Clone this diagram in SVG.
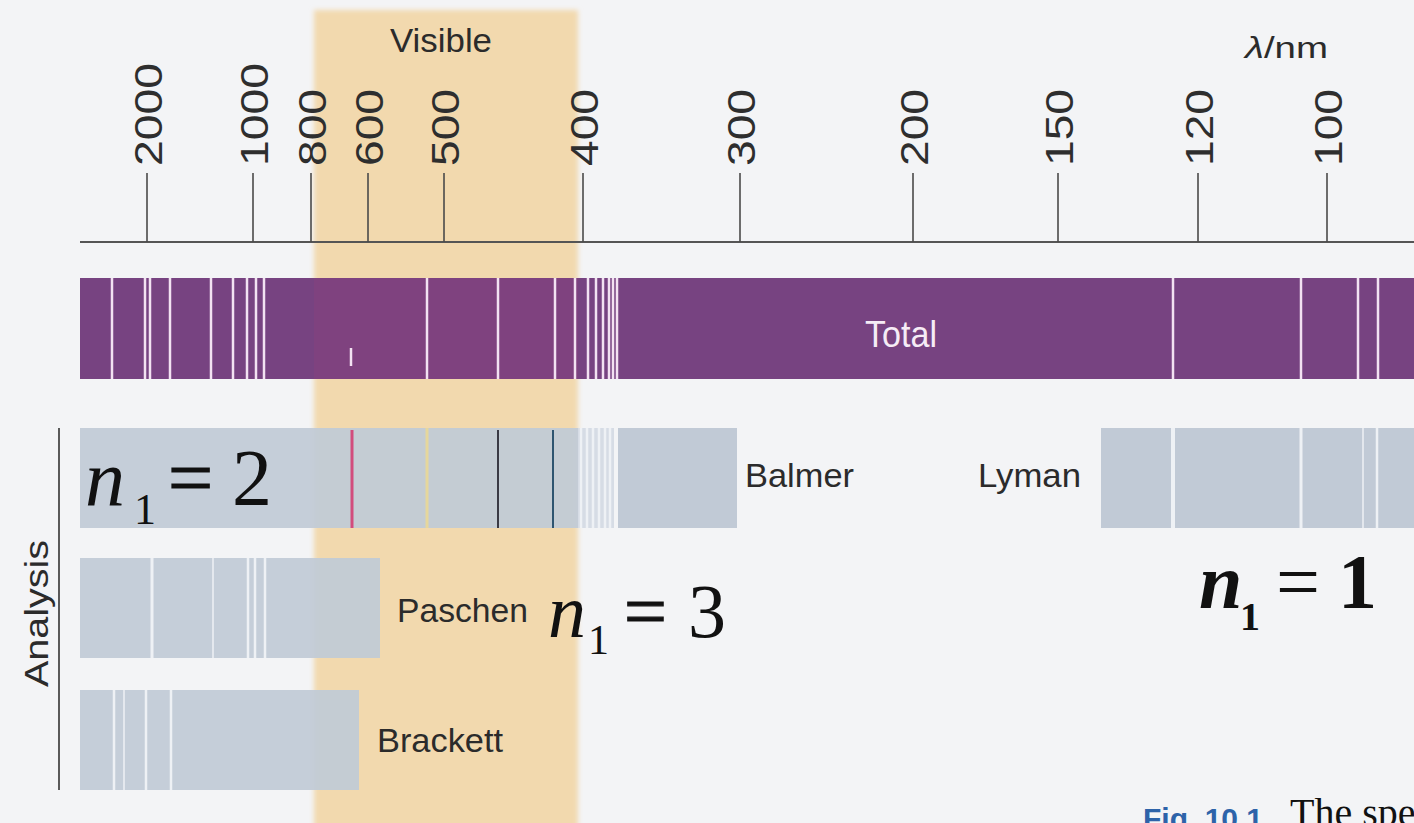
<svg xmlns="http://www.w3.org/2000/svg" width="1414" height="823" viewBox="0 0 1414 823">
  <defs>
    <filter id="soft" x="-5%" y="-5%" width="110%" height="110%">
      <feGaussianBlur stdDeviation="2.5"/>
    </filter>
    <style>
      .sans { font-family: "Liberation Sans", Arial, sans-serif; }
      .lbl { font-family: "Liberation Sans", Arial, sans-serif; font-size: 34px; fill: #2b2b2b; }
      .tick-lbl { font-family: "Liberation Sans", Arial, sans-serif; font-size: 38px; fill: #2e2e2e; }
      .tick { stroke: #4a4a4a; stroke-width: 1.6; }
      .axis { stroke: #555; stroke-width: 1.8; }
      .bar { fill: #c1cad6; }
      .gline { stroke: #eef1f5; stroke-width: 2.5; }
      .pline { stroke: #f3e2f2; stroke-width: 2.5; }
      .math { font-family: "Liberation Serif", "Times New Roman", serif; fill: #111; }
      .eq { stroke: #111; stroke-width: 1.2; }
    </style>
  </defs>

  <!-- page background -->
  <rect width="1414" height="823" fill="#f3f4f6"/>

  <!-- visible-light band -->
  <g id="visible-band">
    <rect x="314" y="10" width="264" height="830" fill="#f2d9ae" filter="url(#soft)"/>
  </g>

  <!-- wavelength axis -->
  <g id="axis">
    <line class="axis" x1="80" y1="242" x2="1414" y2="242"/>
    <text class="lbl" x="390" y="52" textLength="102" lengthAdjust="spacingAndGlyphs">Visible</text>
    <text class="sans" x="1245" y="58" font-size="30" fill="#2b2b2b" textLength="83" lengthAdjust="spacingAndGlyphs"><tspan font-style="italic">λ</tspan>/nm</text>
  </g>

  <g id="ticks">
    <line class="tick" x1="147" y1="173" x2="147" y2="242"/>
    <line class="tick" x1="253" y1="173" x2="253" y2="242"/>
    <line class="tick" x1="311" y1="173" x2="311" y2="242"/>
    <line class="tick" x1="368" y1="173" x2="368" y2="242"/>
    <line class="tick" x1="444" y1="173" x2="444" y2="242"/>
    <line class="tick" x1="583" y1="173" x2="583" y2="242"/>
    <line class="tick" x1="740" y1="173" x2="740" y2="242"/>
    <line class="tick" x1="913" y1="173" x2="913" y2="242"/>
    <line class="tick" x1="1058" y1="173" x2="1058" y2="242"/>
    <line class="tick" x1="1198" y1="173" x2="1198" y2="242"/>
    <line class="tick" x1="1327" y1="173" x2="1327" y2="242"/>
  </g>

  <g id="tick-labels">
    <text class="tick-lbl" transform="translate(162,166) rotate(-90)" textLength="103" lengthAdjust="spacingAndGlyphs">2000</text>
    <text class="tick-lbl" transform="translate(268,166) rotate(-90)" textLength="103" lengthAdjust="spacingAndGlyphs">1000</text>
    <text class="tick-lbl" transform="translate(326,166) rotate(-90)" textLength="77" lengthAdjust="spacingAndGlyphs">800</text>
    <text class="tick-lbl" transform="translate(383,166) rotate(-90)" textLength="77" lengthAdjust="spacingAndGlyphs">600</text>
    <text class="tick-lbl" transform="translate(459,166) rotate(-90)" textLength="77" lengthAdjust="spacingAndGlyphs">500</text>
    <text class="tick-lbl" transform="translate(598,166) rotate(-90)" textLength="77" lengthAdjust="spacingAndGlyphs">400</text>
    <text class="tick-lbl" transform="translate(755,166) rotate(-90)" textLength="77" lengthAdjust="spacingAndGlyphs">300</text>
    <text class="tick-lbl" transform="translate(928,166) rotate(-90)" textLength="77" lengthAdjust="spacingAndGlyphs">200</text>
    <text class="tick-lbl" transform="translate(1073,166) rotate(-90)" textLength="77" lengthAdjust="spacingAndGlyphs">150</text>
    <text class="tick-lbl" transform="translate(1213,166) rotate(-90)" textLength="77" lengthAdjust="spacingAndGlyphs">120</text>
    <text class="tick-lbl" transform="translate(1342,166) rotate(-90)" textLength="77" lengthAdjust="spacingAndGlyphs">100</text>
  </g>

  <!-- total spectrum -->
  <g id="total">
    <rect x="80" y="278" width="1334" height="101" fill="#774381"/>
    <rect x="314" y="278" width="264" height="101" fill="#a2407a" opacity="0.2"/>
    <g class="pline">
      <line x1="112" y1="278" x2="112" y2="379"/>
      <line x1="145" y1="278" x2="145" y2="379"/>
      <line x1="150" y1="278" x2="150" y2="379"/>
      <line x1="170" y1="278" x2="170" y2="379"/>
      <line x1="211" y1="278" x2="211" y2="379"/>
      <line x1="233" y1="278" x2="233" y2="379"/>
      <line x1="247" y1="278" x2="247" y2="379"/>
      <line x1="256" y1="278" x2="256" y2="379"/>
      <line x1="264" y1="278" x2="264" y2="379"/>
      <line x1="351" y1="348" x2="351" y2="366"/>
      <line x1="427" y1="278" x2="427" y2="379"/>
      <line x1="498" y1="278" x2="498" y2="379"/>
      <line x1="555" y1="278" x2="555" y2="379"/>
      <line x1="575" y1="278" x2="575" y2="379"/>
      <line x1="588" y1="278" x2="588" y2="379"/>
      <line x1="596" y1="278" x2="596" y2="379"/>
      <line x1="603" y1="278" x2="603" y2="379"/>
      <line x1="609" y1="278" x2="609" y2="379"/>
      <line x1="613" y1="278" x2="613" y2="379"/>
      <line x1="617" y1="278" x2="617" y2="379"/>
      <line x1="1173" y1="278" x2="1173" y2="379"/>
      <line x1="1301" y1="278" x2="1301" y2="379"/>
      <line x1="1358" y1="278" x2="1358" y2="379"/>
      <line x1="1378" y1="278" x2="1378" y2="379"/>
    </g>
    <text class="sans" x="865" y="347" font-size="36" fill="#f6ecf6" textLength="72" lengthAdjust="spacingAndGlyphs">Total</text>
  </g>

  <!-- analysis bracket -->
  <g id="analysis">
    <line x1="59" y1="428" x2="59" y2="790" stroke="#333" stroke-width="1.6"/>
    <text class="sans" transform="translate(48,687) rotate(-90)" font-size="34" fill="#2b2b2b" textLength="147" lengthAdjust="spacingAndGlyphs">Analysis</text>
  </g>

  <!-- Balmer series -->
  <g id="balmer">
    <rect class="bar" x="80" y="428" width="498" height="100" opacity="0.93"/>
    <rect x="578" y="428" width="36" height="100" fill="#d6dce5"/>
    <rect class="bar" x="618" y="428" width="119" height="100"/>
    <g class="gline">
      <line x1="581" y1="428" x2="581" y2="528"/>
      <line x1="587" y1="428" x2="587" y2="528"/>
      <line x1="593" y1="428" x2="593" y2="528"/>
      <line x1="599" y1="428" x2="599" y2="528"/>
      <line x1="605" y1="428" x2="605" y2="528"/>
      <line x1="610" y1="428" x2="610" y2="528"/>
    </g>
    <line x1="352" y1="430" x2="352" y2="528" stroke="#d24c7c" stroke-width="3"/>
    <line x1="427" y1="428" x2="427" y2="528" stroke="#e6d79c" stroke-width="3"/>
    <line x1="498" y1="430" x2="498" y2="528" stroke="#3a3a44" stroke-width="2"/>
    <line x1="553" y1="430" x2="553" y2="528" stroke="#2f5570" stroke-width="2"/>
    <text class="lbl" x="745" y="487" textLength="109" lengthAdjust="spacingAndGlyphs">Balmer</text>
  </g>

  <!-- Lyman series -->
  <g id="lyman">
    <rect class="bar" x="1101" y="428" width="313" height="100"/>
    <g class="gline">
      <line x1="1173" y1="428" x2="1173" y2="528" stroke-width="4"/>
      <line x1="1301" y1="428" x2="1301" y2="528" stroke-width="3"/>
      <line x1="1363" y1="428" x2="1363" y2="528" stroke-width="1.5"/>
      <line x1="1377" y1="428" x2="1377" y2="528"/>
    </g>
    <text class="lbl" x="978" y="487" textLength="103" lengthAdjust="spacingAndGlyphs">Lyman</text>
  </g>

  <!-- Paschen series -->
  <g id="paschen">
    <rect class="bar" x="80" y="558" width="300" height="100" opacity="0.93"/>
    <g class="gline">
      <line x1="152" y1="558" x2="152" y2="658" stroke-width="3"/>
      <line x1="213" y1="558" x2="213" y2="658" stroke-width="1.5"/>
      <line x1="248" y1="558" x2="248" y2="658"/>
      <line x1="255" y1="558" x2="255" y2="658"/>
      <line x1="265" y1="558" x2="265" y2="658"/>
    </g>
    <text class="lbl" x="397" y="622" textLength="131" lengthAdjust="spacingAndGlyphs">Paschen</text>
  </g>

  <!-- Brackett series -->
  <g id="brackett">
    <rect class="bar" x="80" y="690" width="279" height="100" opacity="0.93"/>
    <g class="gline">
      <line x1="114" y1="690" x2="114" y2="790"/>
      <line x1="124" y1="690" x2="124" y2="790" stroke-width="1.5"/>
      <line x1="146" y1="690" x2="146" y2="790"/>
      <line x1="171" y1="690" x2="171" y2="790"/>
    </g>
    <text class="lbl" x="377" y="752" textLength="126" lengthAdjust="spacingAndGlyphs">Brackett</text>
  </g>

  <!-- lower quantum number of each series -->
  <g id="n1-eq2">
    <text class="math" font-size="80"><tspan x="85" y="505" font-style="italic">n</tspan><tspan x="134" y="524" font-size="44">1</tspan><tspan class="eq" x="168" y="505">=</tspan><tspan x="232" y="505">2</tspan></text>
  </g>
  <g id="n1-eq3">
    <text class="math" font-size="76"><tspan x="548" y="637" font-style="italic">n</tspan><tspan x="588" y="654" font-size="42">1</tspan><tspan class="eq" x="624" y="637">=</tspan><tspan x="688" y="637">3</tspan></text>
  </g>
  <g id="n1-eq1">
    <text class="math" font-size="78" fill="#1c1c1c"><tspan x="1199" y="608" font-style="italic" font-weight="bold">n</tspan><tspan x="1240" y="630" font-size="40" font-weight="bold">1</tspan><tspan x="1276" y="608">=</tspan><tspan x="1338" y="608" font-weight="bold">1</tspan></text>
  </g>

  <!-- caption, cut by the page edge -->
  <g id="caption">
    <text class="sans" x="1143" y="829" font-size="30" font-weight="bold" fill="#2d63a9">Fig. 10.1</text>
    <text class="math" x="1290" y="826" font-size="40" fill="#222">The spe</text>
  </g>
</svg>
